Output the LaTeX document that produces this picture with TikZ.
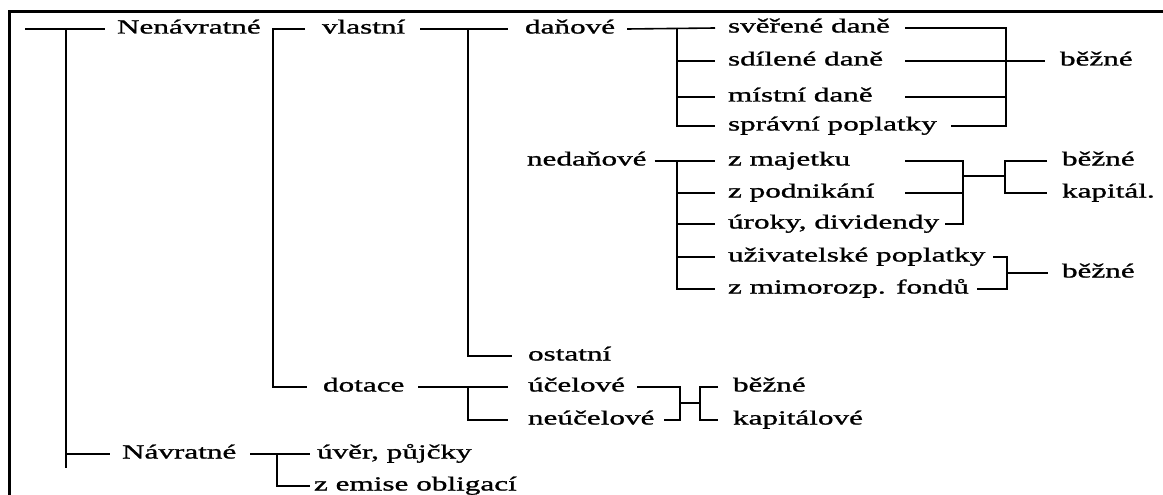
\documentclass[tikz,border=0pt]{standalone}
\usepackage{fontspec}
\setmainfont[FakeStretch=1.56,FakeBold=1.2]{Liberation Serif}
\begin{document}
\begin{tikzpicture}[x=1pt,y=-1pt,
  lbl/.style={anchor=west,inner sep=0pt,outer sep=0pt,text height=14pt,text depth=5pt,font=\fontsize{20}{22}\selectfont},
  conn/.style={line width=1.6pt,line cap=butt,line join=miter}]
\clip (0,0) rectangle (1163,495);
\draw[line width=2.6pt] (9.3,530) -- (9.3,11.7) -- (1200,11.7);

% junction columns
\coordinate (jR) at (66,0);
\coordinate (jA) at (273,0);
\coordinate (jB) at (468,0);
\coordinate (jC) at (677,0);
\coordinate (jE) at (905,0);
\coordinate (jD) at (1006,0);
\coordinate (jG) at (963,0);
\coordinate (jH) at (1005,0);
\coordinate (jI) at (1007,0);
\coordinate (jJ) at (680,0);
\coordinate (jK) at (700,0);
\coordinate (jL) at (277,0);
\coordinate (r0) at (25,29);
\coordinate (rb) at (66,468);
\coordinate (m1) at (963,176);
\coordinate (m2) at (680,403);

% nodes
\node[lbl] (nen) at (117,29) {Nenávratné};
\node[lbl] (nav) at (122,454) {Návratné};
\node[lbl] (vl) at (322,29) {vlastní};
\node[lbl] (dot) at (323,387) {dotace};
\node[lbl] (uv) at (317,454) {úvěr, půjčky};
\node[lbl] (em) at (314,486) {z emise obligací};
\node[lbl] (dan) at (525,29) {daňové};
\node[lbl] (ned) at (527,161) {nedaňové};
\node[lbl] (ost) at (528,356) {ostatní};
\node[lbl] (uc) at (528,387) {účelové};
\node[lbl] (neuc) at (528,420) {neúčelové};
\node[lbl] (sv) at (728,28) {svěřené daně};
\node[lbl] (sd) at (728,61) {sdílené daně};
\node[lbl] (mi) at (728,97) {místní daně};
\node[lbl] (sp) at (728,126) {správní poplatky};
\node[lbl] (zm) at (728,161) {z majetku};
\node[lbl] (zp) at (728,193) {z podnikání};
\node[lbl] (ur) at (728,224) {úroky, dividendy};
\node[lbl] (uz) at (728,257) {uživatelské poplatky};
\node[lbl] (zmi) at (728,289) {z mimorozp. fondů};
\node[lbl] (b1) at (1060,61) {běžné};
\node[lbl] (b2) at (1062,161) {běžné};
\node[lbl] (k2) at (1062,193) {kapitál.};
\node[lbl] (b3) at (1062,273) {běžné};
\node[lbl] (b4) at (733,387) {běžné};
\node[lbl] (k4) at (733,420) {kapitálové};

% root
\draw[conn] (r0) -- ([xshift=-12pt]nen.west);
\draw[conn] (r0 -| jR) -- (rb);
\draw[conn] (nav.west -| jR) -- ([xshift=-12pt]nav.west);

% Nenavratne -> vlastni / dotace
\draw[conn] ([xshift=-17pt]vl.west) -- (vl.west -| jA) |- ([xshift=-16pt]dot.west);

% vlastni -> danove / nedanove / ostatni
\draw[conn] ([xshift=15pt]vl.east) -- ([xshift=-17pt]dan.west);
\draw[conn] (dan.west -| jB) |- ([xshift=-16pt]ost.west);

% danove -> items
\draw[conn] ([xshift=12pt]dan.east) -- ([xshift=-13pt]sv.west);
\draw[conn] (sv.west -| jC) |- ([xshift=-13pt]sp.west);
\draw[conn] (sd.west -| jC) -- ([xshift=-13pt]sd.west);
\draw[conn] (mi.west -| jC) -- ([xshift=-13pt]mi.west);

% dane bracket -> bezne
\draw[conn] (sv.west -| jE) -| (sp.east -| jD) -- ([xshift=14pt]sp.east);
\draw[conn] (mi.west -| jE) -- (mi.west -| jD);
\draw[conn] (sd.west -| jE) -- ([xshift=-15pt]b1.west);

% nedanove -> items
\draw[conn] ([xshift=8pt]ned.east) -- ([xshift=-13pt]zm.west);
\draw[conn] (zm.west -| jC) |- ([xshift=-13pt]zmi.west);
\draw[conn] (zp.west -| jC) -- ([xshift=-13pt]zp.west);
\draw[conn] (ur.west -| jC) -- ([xshift=-13pt]ur.west);
\draw[conn] (uz.west -| jC) -- ([xshift=-13pt]uz.west);

% majetek bracket
\draw[conn] (zm.west -| jE) -| (ur.east -| jG) -- ([xshift=6pt]ur.east);
\draw[conn] (zp.west -| jE) -- (zp.west -| jG);
\draw[conn] (m1) -- (m1 -| jH);
\draw[conn] ([xshift=-15pt]b2.west) -| (k2.west -| jH) -- ([xshift=-15pt]k2.west);

% uzivatelske bracket
\draw[conn] ([xshift=8pt]uz.east) -| (zmi.east -| jI) -- ([xshift=8pt]zmi.east);
\draw[conn] (b3.west -| jI) -- ([xshift=-14pt]b3.west);

% dotace
\draw[conn] ([xshift=14pt]dot.east) -- ([xshift=-20pt]uc.west);
\draw[conn] (uc.west -| jB) |- ([xshift=-20pt]neuc.west);
\draw[conn] ([xshift=12pt]uc.east) -| (neuc.east -| jJ) -- ([xshift=10pt]neuc.east);
\draw[conn] (m2) -- (m2 -| jK);
\draw[conn] ([xshift=-15pt]b4.west) -| (k4.west -| jK) -- ([xshift=-15pt]k4.west);

% Navratne
\draw[conn] ([xshift=14pt]nav.east) -- ([xshift=-7pt]uv.west);
\draw[conn] (uv.west -| jL) |- ([xshift=-4pt]em.west);
\end{tikzpicture}
\end{document}
